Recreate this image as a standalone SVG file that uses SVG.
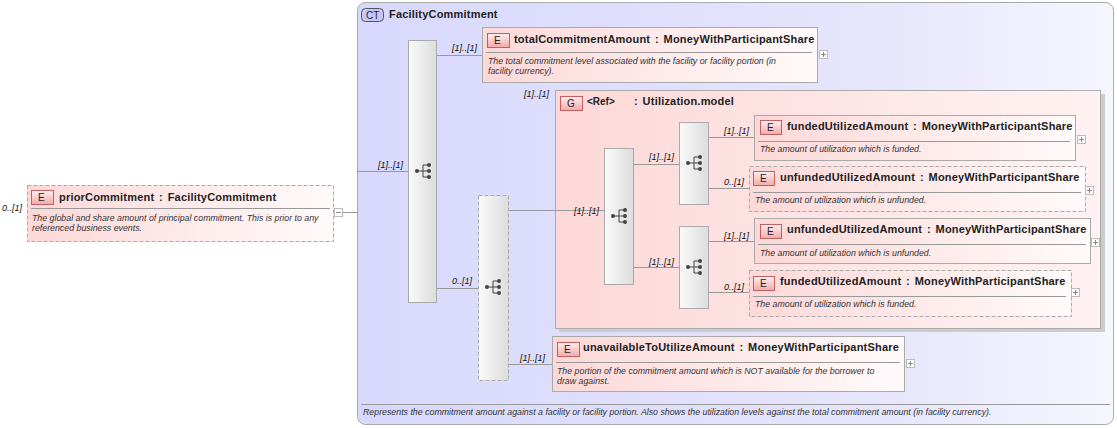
<svg xmlns="http://www.w3.org/2000/svg" width="1117" height="428" viewBox="0 0 1117 428">
<style>
text{font-family:"Liberation Sans",Arial,sans-serif;fill:#222}
.t{font-size:11px;font-weight:bold;letter-spacing:0.2px;word-spacing:1.5px}
.d{font-size:8.8px;font-style:italic;fill:#333}
.m{font-size:9px;font-style:italic;fill:#111}
.b{font-size:10px}
.el{fill:url(#gE);stroke:#aaa;stroke-width:1}
.dash{stroke-dasharray:4,2}
.sep{stroke:#999;stroke-width:1}
.bdg{fill:url(#gB);stroke:#c06060;stroke-width:1}
.seq{fill:url(#gS);stroke:#aaa;stroke-width:1}
.ln{stroke:#999;stroke-width:1;fill:none}
.pm{fill:#fff;stroke:#bbb;stroke-width:1}
</style>
<defs>
<linearGradient id="gE" x1="0" y1="0" x2="1" y2="0"><stop offset="0" stop-color="#fdd8d8"/><stop offset="1" stop-color="#fffafa"/></linearGradient>
<linearGradient id="gB" x1="0" y1="0" x2="0" y2="1"><stop offset="0" stop-color="#fff0f0"/><stop offset="1" stop-color="#f4a8a8"/></linearGradient>
<linearGradient id="gS" x1="0" y1="0" x2="1" y2="0"><stop offset="0" stop-color="#fafafa"/><stop offset="1" stop-color="#dcdcdc"/></linearGradient>
<linearGradient id="gCT" x1="0" y1="0" x2="1" y2="0"><stop offset="0" stop-color="#d8d8fc"/><stop offset="0.7" stop-color="#e6e6fc"/><stop offset="1" stop-color="#f6f6ff"/></linearGradient>
<linearGradient id="gG" x1="0" y1="0" x2="1" y2="0"><stop offset="0" stop-color="#fdd8d8"/><stop offset="1" stop-color="#fff2f2"/></linearGradient>
<g id="ic"><circle cx="-6" cy="0" r="2" fill="#444"/><path d="M-6 0H0M0-6V6M0-6H5M0 0H5M0 6H5" stroke="#444" fill="none"/><circle cx="6" cy="-6" r="2" fill="#444"/><circle cx="6" cy="0" r="2" fill="#444"/><circle cx="6" cy="6" r="2" fill="#444"/></g>
</defs>
<g id="ct">
<rect x="357.5" y="2.5" width="756" height="422" rx="8" fill="url(#gCT)" stroke="#aaa"/>
<rect x="361.5" y="8.5" width="22" height="13" rx="4" fill="#c8c8f8" stroke="#555"/>
<text x="366" y="19" class="b">CT</text>
<text x="389" y="18" class="t">FacilityCommitment</text>
<line x1="361" y1="404.5" x2="1110" y2="404.5" class="sep"/>
<text x="363" y="415" class="d">Represents the commitment amount against a facility or facility portion. Also shows the utilization levels against the total commitment amount (in facility currency).</text>
</g>
<g id="group">
<rect x="559" y="94" width="546" height="238" fill="#ccc"/>
<rect x="555.5" y="90.5" width="545" height="238" fill="url(#gG)" stroke="#aaa"/>
<rect x="560.5" y="96.5" width="22" height="14" class="bdg"/><text x="567" y="107" class="b">G</text>
<text x="587" y="105" class="b" font-weight="bold">&lt;Ref&gt;</text>
<text x="634" y="105" class="t">: Utilization.model</text>
</g>
<g id="connectors">
<path class="ln" d="M342 212.5H357M357 171.5H408M436 55.5H482M436 288.5H478M508 210.5H555M555 210.5H604M633 164.5H679M633 267.5H679M708 137.5H754M708 188.5H749M708 241.5H754M708 292.5H749M508 364.5H552"/>
<text x="2" y="211" class="m">0..[1]</text>
<text x="378" y="168" class="m">[1]..[1]</text>
<text x="452" y="51" class="m">[1]..[1]</text>
<text x="452" y="284" class="m">0..[1]</text>
<text x="524" y="97" class="m">[1]..[1]</text>
<text x="574" y="214" class="m">[1]..[1]</text>
<text x="649" y="160" class="m">[1]..[1]</text>
<text x="649" y="265" class="m">[1]..[1]</text>
<text x="724" y="134" class="m">[1]..[1]</text>
<text x="724" y="185" class="m">0..[1]</text>
<text x="724" y="239" class="m">[1]..[1]</text>
<text x="724" y="290" class="m">0..[1]</text>
<text x="520" y="361" class="m">[1]..[1]</text>
</g>
<g id="priorCommitment">
<rect x="27.5" y="185.5" width="306" height="56" class="el dash"/>
<rect x="31.5" y="190.5" width="22" height="14" class="bdg"/><text x="38" y="201" class="b">E</text>
<text x="59" y="201" class="t">priorCommitment : FacilityCommitment</text>
<line x1="31" y1="208.5" x2="330" y2="208.5" class="sep"/>
<text x="32" y="221" class="d">The global and share amount of principal commitment. This is prior to any</text>
<text x="32" y="231" class="d">referenced business events.</text>
<rect x="334.5" y="208.5" width="8" height="8" class="pm"/><path d="M336 212.5h5" stroke="#888"/>
</g>
<g id="seq1"><rect x="408.5" y="40.5" width="28" height="262" class="seq"/><use href="#ic" x="423" y="171"/></g>
<g id="totalCommitmentAmount">
<rect x="482.5" y="27.5" width="335" height="55" class="el"/>
<rect x="487.5" y="33.5" width="22" height="14" class="bdg"/><text x="494" y="44" class="b">E</text>
<text x="514" y="43" class="t">totalCommitmentAmount : MoneyWithParticipantShare</text>
<line x1="486" y1="52.5" x2="812" y2="52.5" class="sep"/>
<text x="488" y="64" class="d">The total commitment level associated with the facility or facility portion (in</text>
<text x="488" y="74" class="d">facility currency).</text>
<rect x="819.5" y="50.5" width="8" height="8" class="pm"/><path d="M821 54.5h5M823.5 52v5" stroke="#888"/>
</g>
<g id="choice2"><rect x="478.5" y="195.5" width="30" height="185" class="seq dash"/><use href="#ic" x="493" y="287"/></g>
<g id="seq3"><rect x="604.5" y="148.5" width="29" height="136" class="seq"/><use href="#ic" x="619" y="216"/></g>
<g id="seq4"><rect x="679.5" y="122.5" width="29" height="82" class="seq"/><use href="#ic" x="694" y="163"/></g>
<g id="seq5"><rect x="679.5" y="226.5" width="29" height="82" class="seq"/><use href="#ic" x="694" y="267"/></g>
<g id="funded1">
<rect x="754.5" y="115.5" width="321" height="45" class="el"/>
<rect x="760.5" y="120.5" width="21" height="14" class="bdg"/><text x="767" y="131" class="b">E</text>
<text x="787" y="130" class="t">fundedUtilizedAmount : MoneyWithParticipantShare</text>
<line x1="758" y1="141.5" x2="1070" y2="141.5" class="sep"/>
<text x="760" y="152" class="d">The amount of utilization which is funded.</text>
<rect x="1077.5" y="135.5" width="8" height="8" class="pm"/><path d="M1079 139.5h5M1081.5 137v5" stroke="#888"/>
</g>
<g id="unfunded1">
<rect x="749.5" y="166.5" width="336" height="45" class="el dash"/>
<rect x="753.5" y="171.5" width="21" height="14" class="bdg"/><text x="760" y="182" class="b">E</text>
<text x="780" y="181" class="t">unfundedUtilizedAmount : MoneyWithParticipantShare</text>
<line x1="753" y1="192.5" x2="1081" y2="192.5" class="sep"/>
<text x="755" y="203" class="d">The amount of utilization which is unfunded.</text>
<rect x="1085.5" y="186.5" width="8" height="8" class="pm"/><path d="M1087 190.5h5M1089.5 188v5" stroke="#888"/>
</g>
<g id="unfunded2">
<rect x="754.5" y="218.5" width="336" height="45" class="el"/>
<rect x="760.5" y="224.5" width="21" height="14" class="bdg"/><text x="767" y="235" class="b">E</text>
<text x="787" y="233" class="t">unfundedUtilizedAmount : MoneyWithParticipantShare</text>
<line x1="758" y1="244.5" x2="1086" y2="244.5" class="sep"/>
<text x="760" y="256" class="d">The amount of utilization which is unfunded.</text>
<rect x="1091.5" y="238.5" width="8" height="8" class="pm"/><path d="M1093 242.5h5M1095.5 240v5" stroke="#888"/>
</g>
<g id="funded2">
<rect x="749.5" y="270.5" width="322" height="46" class="el dash"/>
<rect x="753.5" y="276.5" width="21" height="14" class="bdg"/><text x="760" y="287" class="b">E</text>
<text x="780" y="285" class="t">fundedUtilizedAmount : MoneyWithParticipantShare</text>
<line x1="753" y1="296.5" x2="1066" y2="296.5" class="sep"/>
<text x="755" y="307" class="d">The amount of utilization which is funded.</text>
<rect x="1071.5" y="288.5" width="8" height="8" class="pm"/><path d="M1073 292.5h5M1075.5 290v5" stroke="#888"/>
</g>
<g id="unavailableToUtilizeAmount">
<rect x="552.5" y="336.5" width="352" height="55" class="el"/>
<rect x="557.5" y="342.5" width="22" height="14" class="bdg"/><text x="564" y="353" class="b">E</text>
<text x="583" y="351" class="t">unavailableToUtilizeAmount : MoneyWithParticipantShare</text>
<line x1="556" y1="362.5" x2="900" y2="362.5" class="sep"/>
<text x="557" y="374" class="d">The portion of the commitment amount which is NOT available for the borrower to</text>
<text x="557" y="384" class="d">draw against.</text>
<rect x="906.5" y="359.5" width="8" height="8" class="pm"/><path d="M908 363.5h5M910.5 361v5" stroke="#888"/>
</g>
</svg>
